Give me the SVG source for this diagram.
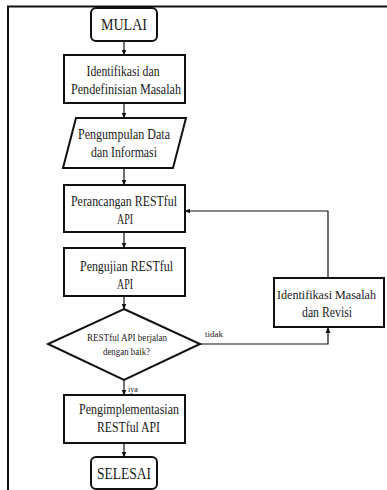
<svg xmlns="http://www.w3.org/2000/svg" width="387" height="490" viewBox="0 0 387 490">
<defs>
<style>
.shape{fill:#fff;stroke:#111;stroke-width:2}
.frame{fill:none;stroke:#111;stroke-width:2}
.t{font-family:"Liberation Serif","Times New Roman",serif;fill:#1a1a1a;text-anchor:middle}
.m{font-size:14px}
.m2{font-size:12.5px}
.big{font-size:16px}
.s{font-size:11px}
.lbl{font-size:9px;text-anchor:start}
.c{fill:none;stroke:#111;stroke-width:1.2}
</style>
<marker id="ah" viewBox="0 0 10 10" refX="9" refY="5" markerWidth="5" markerHeight="5" orient="auto">
<path d="M0,1 L10,5 L0,9 z" fill="#111"/>
</marker>
</defs>
<rect width="387" height="490" fill="#fff"/>
<g id="frame">
<polyline class="frame" points="8,490 8,6.5 387,6.5"/>
</g>
<g id="connectors">
<line class="c" x1="124" y1="41" x2="124" y2="55" marker-end="url(#ah)"/>
<line class="c" x1="124" y1="103" x2="124" y2="118" marker-end="url(#ah)"/>
<line class="c" x1="124" y1="168" x2="124" y2="185" marker-end="url(#ah)"/>
<line class="c" x1="124" y1="232" x2="124" y2="248" marker-end="url(#ah)"/>
<line class="c" x1="124" y1="296" x2="124" y2="309" marker-end="url(#ah)"/>
<line class="c" x1="124" y1="380" x2="124" y2="395" marker-end="url(#ah)"/>
<line class="c" x1="124" y1="443" x2="124" y2="457" marker-end="url(#ah)"/>
<polyline class="c" points="200,344 328,344 328,327.5" marker-end="url(#ah)"/>
<polyline class="c" points="328,278 328,211 185,211" marker-end="url(#ah)"/>
<text class="t lbl" x="205" y="337" textLength="18" lengthAdjust="spacingAndGlyphs">tidak</text>
<text class="t lbl" x="128" y="392" textLength="10" lengthAdjust="spacingAndGlyphs">iya</text>
</g>
<g id="mulai">
<rect class="shape" x="91" y="8" width="66" height="33" rx="5"/>
<text class="t big" x="124" y="30" textLength="46" lengthAdjust="spacingAndGlyphs">MULAI</text>
</g>
<g id="identifikasi">
<rect class="shape" x="64" y="55" width="121" height="48"/>
<text class="t m" x="123" y="76" textLength="73" lengthAdjust="spacingAndGlyphs">Identifikasi dan</text>
<text class="t m" x="126" y="94" textLength="110" lengthAdjust="spacingAndGlyphs">Pendefinisian Masalah</text>
</g>
<g id="pengumpulan">
<polygon class="shape" points="76,118 186,118 173,168 63,168"/>
<text class="t m" x="124" y="139" textLength="92" lengthAdjust="spacingAndGlyphs">Pengumpulan Data</text>
<text class="t m" x="124" y="157" textLength="66" lengthAdjust="spacingAndGlyphs">dan Informasi</text>
</g>
<g id="perancangan">
<rect class="shape" x="64" y="185" width="121" height="47"/>
<text class="t m" x="124" y="206" textLength="106" lengthAdjust="spacingAndGlyphs">Perancangan RESTful</text>
<text class="t m" x="125" y="224" textLength="16" lengthAdjust="spacingAndGlyphs">API</text>
</g>
<g id="pengujian">
<rect class="shape" x="64" y="248" width="121" height="48"/>
<text class="t m" x="126.5" y="271" textLength="93" lengthAdjust="spacingAndGlyphs">Pengujian RESTful</text>
<text class="t m" x="125" y="289" textLength="16" lengthAdjust="spacingAndGlyphs">API</text>
</g>
<g id="keputusan">
<polygon class="shape" points="124,309 200,344 124,380 48,344"/>
<text class="t s" x="127" y="341" textLength="80" lengthAdjust="spacingAndGlyphs">RESTful API berjalan</text>
<text class="t s" x="126.5" y="355" textLength="47" lengthAdjust="spacingAndGlyphs">dengan baik?</text>
</g>
<g id="pengimplementasian">
<rect class="shape" x="64" y="395" width="121" height="48"/>
<text class="t m" x="129" y="414" textLength="100" lengthAdjust="spacingAndGlyphs">Pengimplementasian</text>
<text class="t m" x="128.5" y="432" textLength="63" lengthAdjust="spacingAndGlyphs">RESTful API</text>
</g>
<g id="selesai">
<rect class="shape" x="91" y="457" width="66" height="32" rx="5"/>
<text class="t big" x="124" y="479" textLength="54" lengthAdjust="spacingAndGlyphs">SELESAI</text>
</g>
<g id="revisi">
<rect class="shape" x="274" y="278" width="110" height="49"/>
<text class="t m2" x="326.5" y="299" textLength="99" lengthAdjust="spacingAndGlyphs">Identifikasi Masalah</text>
<text class="t m" x="327" y="317" textLength="50" lengthAdjust="spacingAndGlyphs">dan Revisi</text>
</g>
</svg>
